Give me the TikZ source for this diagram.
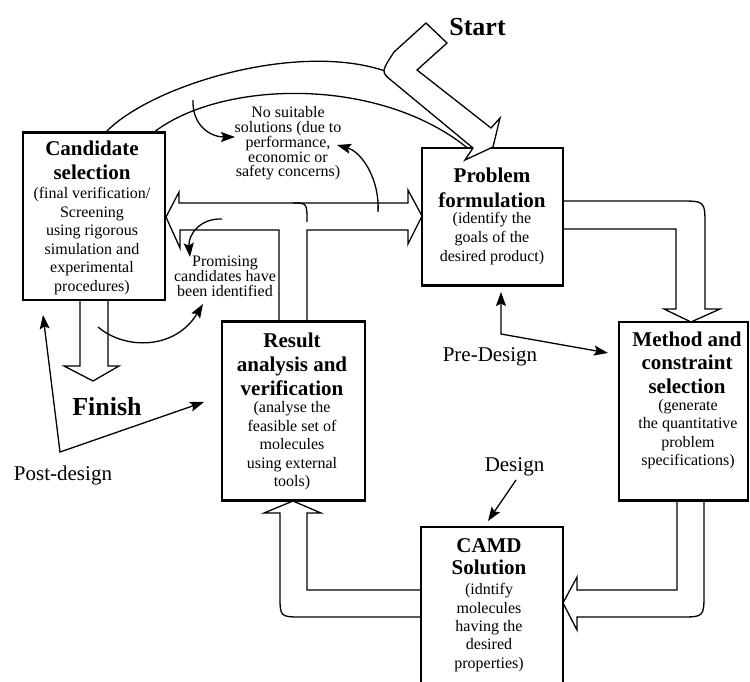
\documentclass[tikz,border=0pt]{standalone}
\usepackage{fontspec}
\setmainfont{Liberation Serif}
\usetikzlibrary{arrows.meta}
\tikzset{
  box/.style={draw, line width=1.4pt, fill=white, inner sep=0pt},
  hollow/.style={draw, line width=1.3pt, fill=white, line join=miter},
  conn/.style={line width=1.3pt},
  tipend/.style={-{Stealth[length=14pt,width=10pt,inset=2.5pt]}},
  tipboth/.style={{Stealth[length=14pt,width=10pt,inset=2.5pt]}-{Stealth[length=14pt,width=10pt,inset=2.5pt]}},
  headtxt/.style={font=\fontsize{21}{24}\selectfont\bfseries, align=center, inner sep=0pt},
  bodytxt/.style={font=\fontsize{16}{18.5}\selectfont, align=center, inner sep=0pt},
  lbltxt/.style={font=\fontsize{16}{14.5}\selectfont, align=center, inner sep=0pt},
  bigtxt/.style={font=\fontsize{26}{30}\selectfont\bfseries, inner sep=0pt},
  phasetxt/.style={font=\fontsize{21}{24}\selectfont, inner sep=0pt},
  thickedge/.style={line width=2.6pt}
}
\begin{document}
\begin{tikzpicture}[x=1pt,y=-1pt]
\useasboundingbox (0,0) rectangle (750,681);
\fill[white] (0,0) rectangle (750,681);

% ---- curved hollow arrow from Candidate selection back to Problem formulation
\draw[conn] (105,133) .. controls (150,85) and (300,40) .. (388,72);
\draw[conn] (153,133) .. controls (220,80) and (380,75) .. (470,150);

% ---- T-shaped double arrow from Result analysis up to Candidate and Problem
\draw[hollow] (279,322) -- (279,230) -- (180,230) -- (180,248) -- (166,217) -- (179,192)
  -- (179,203) -- (408,203) -- (408,190) -- (422,216) -- (408,244) -- (408,230)
  -- (307,230) -- (307,322) -- cycle;
\draw[conn] (293,203) .. controls (307,203) .. (307,222);

% ---- Problem -> Method
\draw[hollow] (563,201) -- (680,201) .. controls (705,201) .. (705,226) -- (705,309)
  -- (720,309) -- (691,322) -- (664,309) -- (676,309) -- (676,229) -- (563,229) -- cycle;

% ---- Method -> CAMD
\draw[hollow] (677,500) -- (677,590) -- (577,590) -- (577,577) -- (563,603) -- (577,630)
  -- (577,617) -- (680,617) .. controls (704,617) .. (704,593) -- (704,500) -- cycle;

% ---- CAMD -> Result
\draw[hollow] (421,590) -- (307,590) -- (307,513) -- (321,513) -- (293,501) -- (264,513)
  -- (280,513) -- (280,595) .. controls (280,617) .. (302,617) -- (421,617) -- cycle;

% ---- Finish arrow
\draw[hollow] (80,300) -- (80,366) -- (64,366) -- (93,381) -- (119,366) -- (108,366) -- (108,300) -- cycle;

% ---- boxes
\node[box, minimum width=142pt, minimum height=167pt] (cand) at (94,216.5) {};
\draw[thickedge] (cand.north west) -- (cand.north east);
\node[box, minimum width=141pt, minimum height=137pt] (prob) at (492.5,216.5) {};
\draw[thickedge] (prob.south west) -- (prob.south east);
\node[box, minimum width=143pt, minimum height=178pt] (resu) at (293.5,411) {};
\draw[thickedge] (resu.north west) -- (resu.north east);
\draw[thickedge] (resu.south west) -- (resu.south east);
\node[box, minimum width=129pt, minimum height=178pt] (meth) at (683.5,411) {};
\draw[thickedge] (meth.south west) -- (meth.south east);
\fill[white] (421,527) rectangle (563,690);
\draw[line width=1.4pt] (421,690) -- (421,527) -- (563,527) -- (563,690);
\coordinate (camdtop) at (492,527);

% ---- Start arrow (its head overlaps the top of Problem formulation)
\draw[hollow] (473,148) -- (392,81) .. controls (381,72) .. (394,52) -- (426,23) -- (447,43)
  -- (417,70) -- (491,128) -- (500,118) -- (493,147) -- (465,160) -- cycle;

% ---- box texts
\node[headtxt] (candh) at (92,160) {Candidate\\selection};
\node[bodytxt] (candb) at (92,241) {(final verification/\\Screening\\using rigorous\\simulation and\\experimental\\procedures)};
\node[headtxt, font=\fontsize{21}{25.5}\selectfont\bfseries] (probh) at (492,188) {Problem\\formulation};
\node[bodytxt, font=\fontsize{16}{19}\selectfont] (probb) at (492,239) {(identify the\\goals of the\\desired product)};
\node[headtxt, font=\fontsize{21}{23.5}\selectfont\bfseries] (methh) at (687,362.5) {Method and\\constraint\\selection};
\node[bodytxt, font=\fontsize{16}{18.3}\selectfont] (methb) at (688,434) {(generate\\the quantitative\\problem\\specifications)};
\node[headtxt] (resuh) at (292,364) {Result\\analysis and\\verification};
\node[bodytxt] (resub) at (292,446) {(analyse the\\feasible set of\\molecules\\using external\\tools)};
\node[headtxt, font=\fontsize{21}{21.5}\selectfont\bfseries] (camdh) at (489,556.5) {CAMD\\Solution};
\node[bodytxt, font=\fontsize{16}{18.3}\selectfont] (camdb) at (489,627.5) {(idntify\\molecules\\having the\\desired\\properties)};

% ---- labels
\node[bigtxt] (start) at (477.5,27) {Start};
\node[bigtxt] (finish) at (107,407) {Finish};
\node[lbltxt] (nosuit) at (288,143.5) {No suitable\\solutions (due to\\performance,\\economic or\\safety concerns)};
\node[lbltxt] (promis) at (225,276) {Promising\\candidates have\\been identified};
\node[phasetxt] (postd) at (63,475) {Post-design};
\node[phasetxt] (pred) at (490,357) {Pre-Design};
\node[phasetxt] (design) at (514.5,467) {Design};

% ---- thin connectors
\coordinate (c1s) at (193,100); \coordinate (c1e) at (235,137);
\draw[conn, tipend] (c1s) .. controls (192,125) and (210,137) .. (c1e);
\coordinate (c2s) at (378,212); \coordinate (c2e) at (337,145);
\draw[conn, tipend] (c2s) .. controls (380,180) and (362,152) .. (c2e);
\coordinate (c3s) at (222,219); \coordinate (c3e) at (190,257);
\draw[conn, tipend] (c3s) .. controls (200,218) and (188,235) .. (c3e);
\coordinate (c4s) at (98,327); \coordinate (c4e) at (203,304);
\draw[conn, tipend] (c4s) .. controls (125,350) and (175,350) .. (c4e);

\coordinate (pdup) at (43,315); \coordinate (pdv) at (60,452); \coordinate (pdright) at (204,402);
\draw[conn, tipboth] (pdup) -- (pdv) -- (pdright);
\coordinate (prup) at (501,292); \coordinate (prv) at (501,334); \coordinate (prright) at (608,353);
\draw[conn, tipboth] (prup) -- (prv) -- (prright);
\coordinate (dgs) at (516,480); \coordinate (dge) at (488,521);
\draw[conn, tipend] (dgs) -- (dge);
\end{tikzpicture}
\end{document}
